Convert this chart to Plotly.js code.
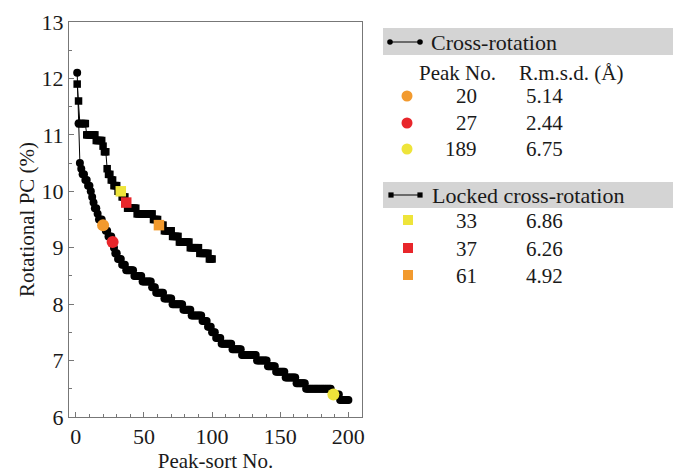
<!DOCTYPE html>
<html><head><meta charset="utf-8">
<script src="https://cdn.plot.ly/plotly-3.0.1.min.js"></script>
<style>html,body{margin:0;padding:0;background:#fff}#chart{width:673px;height:475px}</style>
</head><body><div id="chart"></div>
<script>
// Cross-rotation peaks (peak-sort No. 1..200), rotational PC (%)
const crossValues = [12.1,11.2,10.5,10.4,10.3,10.3,10.2,10.2,10.1,10.1,
10.0,9.9,9.8,9.7,9.7,9.6,9.5,9.5,9.5,9.4,
9.4,9.3,9.3,9.2,9.2,9.2,9.1,9.0,8.9,8.9,
8.8,8.8,8.8,8.7,8.7,8.7,8.6,8.6,8.6,8.6,
8.6,8.6,8.5,8.5,8.5,8.5,8.5,8.5,8.4,8.4,
8.4,8.4,8.4,8.4,8.4,8.3,8.3,8.3,8.2,8.2,
8.2,8.2,8.2,8.2,8.1,8.1,8.1,8.1,8.1,8.1,
8.0,8.0,8.0,8.0,8.0,8.0,8.0,8.0,7.9,7.9,
7.9,7.9,7.9,7.9,7.8,7.8,7.8,7.8,7.8,7.8,
7.8,7.8,7.7,7.7,7.7,7.7,7.6,7.6,7.6,7.5,
7.5,7.5,7.4,7.4,7.4,7.4,7.3,7.3,7.3,7.3,
7.3,7.3,7.3,7.3,7.2,7.2,7.2,7.2,7.2,7.2,
7.2,7.1,7.1,7.1,7.1,7.1,7.1,7.1,7.1,7.1,
7.1,7.1,7.0,7.0,7.0,7.0,7.0,7.0,7.0,7.0,
6.9,6.9,6.9,6.9,6.9,6.9,6.8,6.8,6.8,6.8,
6.8,6.8,6.8,6.7,6.7,6.7,6.7,6.7,6.7,6.7,
6.7,6.6,6.6,6.6,6.6,6.6,6.6,6.6,6.5,6.5,
6.5,6.5,6.5,6.5,6.5,6.5,6.5,6.5,6.5,6.5,
6.5,6.5,6.5,6.5,6.5,6.5,6.5,6.4,6.4,6.4,
6.4,6.4,6.4,6.3,6.3,6.3,6.3,6.3,6.3,6.3];
// Locked cross-rotation peaks (peak-sort No. 1..100)
const lockedValues = [11.9,11.6,11.2,11.2,11.2,11.2,11.2,11.0,11.0,11.0,
11.0,11.0,11.0,11.0,10.9,10.9,10.9,10.9,10.9,10.8,
10.7,10.7,10.4,10.3,10.3,10.2,10.2,10.1,10.1,10.1,
10.0,10.0,10.0,9.9,9.9,9.9,9.8,9.7,9.7,9.7,
9.7,9.7,9.7,9.7,9.6,9.6,9.6,9.6,9.6,9.6,
9.6,9.6,9.6,9.6,9.6,9.6,9.5,9.5,9.5,9.5,
9.4,9.4,9.4,9.4,9.3,9.3,9.3,9.3,9.3,9.3,
9.2,9.2,9.2,9.2,9.2,9.1,9.1,9.1,9.1,9.1,
9.1,9.1,9.1,9.0,9.0,9.0,9.0,9.0,9.0,9.0,
8.9,8.9,8.9,8.9,8.9,8.9,8.9,8.8,8.8,8.8];

const crossPeaks = [20, 27, 189];
const crossRmsd = ['5.14', '2.44', '6.75'];
const crossColors = ['#F29A2E', '#E8262B', '#EEE43A'];
const lockedPeaks = [33, 37, 61];
const lockedRmsd = ['6.86', '6.26', '4.92'];
const lockedColors = ['#EEE43A', '#E8262B', '#F29A2E'];
const xTicks = [0, 50, 100, 150, 200];
const yTicks = [6, 7, 8, 9, 10, 11, 12, 13];

const FONT = '"Liberation Serif", "Times New Roman", serif';
const crossX = crossValues.map((v, i) => i + 1);
const lockedX = lockedValues.map((v, i) => i + 1);

const traces = [
  {x: crossX, y: crossValues, mode: 'lines+markers', type: 'scatter',
   line: {color: '#000', width: 1}, marker: {symbol: 'circle', size: 8, color: '#000'}},
  {x: lockedX, y: lockedValues, mode: 'lines+markers', type: 'scatter',
   line: {color: '#000', width: 1}, marker: {symbol: 'square', size: 7.5, color: '#000'}},
  {x: crossPeaks, y: crossPeaks.map(p => crossValues[p - 1]), mode: 'markers', type: 'scatter',
   marker: {symbol: 'circle', size: 12, color: crossColors}},
  {x: lockedPeaks, y: lockedPeaks.map(p => lockedValues[p - 1]), mode: 'markers', type: 'scatter',
   marker: {symbol: 'square', size: 10.5, color: lockedColors}}
];

// layout helpers: pixel -> paper
const L = 69, R = 311, T = 22, B = 58, W = 673, Hh = 475;
const pw = W - L - R, ph = Hh - T - B;
const px = x => (x - L) / pw;
const py = y => (Hh - B - y) / ph;

const shapes = [];
const annotations = [];
function txt(x, y, text, anchor, size) {
  annotations.push({xref: 'paper', yref: 'paper', x: px(x), y: py(y), text: text,
    showarrow: false, xanchor: anchor, yanchor: 'middle',
    font: {family: FONT, size: size || 21, color: '#1a1a1a'}});
}
function header(y0, y1) {
  shapes.push({type: 'rect', xref: 'paper', yref: 'paper', x0: px(383), x1: px(673),
    y0: py(y1), y1: py(y0), fillcolor: '#d4d4d4', line: {width: 0}, layer: 'below'});
}
function dot(cx, cy, r, color, kind) {
  shapes.push({type: kind, xref: 'paper', yref: 'paper', x0: px(cx - r), x1: px(cx + r),
    y0: py(cy + r), y1: py(cy - r), fillcolor: color, line: {width: 0}});
}
// Cross-rotation block
header(28, 55);
shapes.push({type: 'line', xref: 'paper', yref: 'paper', x0: px(390), x1: px(420), y0: py(42), y1: py(42), line: {color: '#000', width: 1}});
dot(390, 42, 2.8, '#000', 'circle'); dot(420, 42, 2.8, '#000', 'circle');
txt(429, 42, 'Cross-rotation', 'left', 22);
txt(457, 73, 'Peak No.', 'center', 21);
txt(517, 73, 'R.m.s.d. (Å)', 'left', 21);
const rowY1 = [96, 123, 149];
crossPeaks.forEach((p, i) => {
  dot(407, rowY1[i], 5.5, crossColors[i], 'circle');
  txt(479, rowY1[i], String(p), 'right', 21);
  txt(524, rowY1[i], crossRmsd[i], 'left', 21);
});
// Locked cross-rotation block
header(182, 208);
shapes.push({type: 'line', xref: 'paper', yref: 'paper', x0: px(391), x1: px(420), y0: py(195), y1: py(195), line: {color: '#000', width: 1}});
dot(391, 195, 2.6, '#000', 'rect'); dot(420, 195, 2.6, '#000', 'rect');
txt(430, 195, 'Locked cross-rotation', 'left', 22);
const rowY2 = [221, 249, 276];
lockedPeaks.forEach((p, i) => {
  dot(408, rowY2[i] - 1, 5, lockedColors[i], 'rect');
  txt(479, rowY2[i], String(p), 'right', 21);
  txt(524, rowY2[i], lockedRmsd[i], 'left', 21);
});

const axisCommon = {
  showline: true, mirror: true, linecolor: '#777', linewidth: 1,
  ticks: 'inside', ticklen: 5, tickcolor: '#777', tickwidth: 1,
  showgrid: false, zeroline: false,
  tickfont: {family: FONT, size: 22, color: '#1a1a1a'}
};
const layout = {
  width: W, height: Hh, showlegend: false,
  paper_bgcolor: '#fff', plot_bgcolor: '#fff',
  margin: {l: L, r: R, t: T, b: B},
  xaxis: Object.assign({}, axisCommon, {
    range: [-5, 210], tickvals: xTicks, ticktext: xTicks.map(String),
    minor: {dtick: 10, tick0: 0, ticks: 'inside', ticklen: 3, tickcolor: '#777'},
    title: {text: 'Peak-sort No.', font: {family: FONT, size: 21, color: '#1a1a1a'}, standoff: 4}
  }),
  yaxis: Object.assign({}, axisCommon, {
    range: [6, 13], tickvals: yTicks, ticktext: yTicks.map(String),
    minor: {dtick: 0.5, tick0: 6, ticks: 'inside', ticklen: 3, tickcolor: '#777'},
    title: {text: 'Rotational PC (%)', font: {family: FONT, size: 21, color: '#1a1a1a'}, standoff: 1}
  }),
  shapes: shapes, annotations: annotations
};
Plotly.newPlot('chart', traces, layout, {displayModeBar: false, staticPlot: true});
</script></body></html>
